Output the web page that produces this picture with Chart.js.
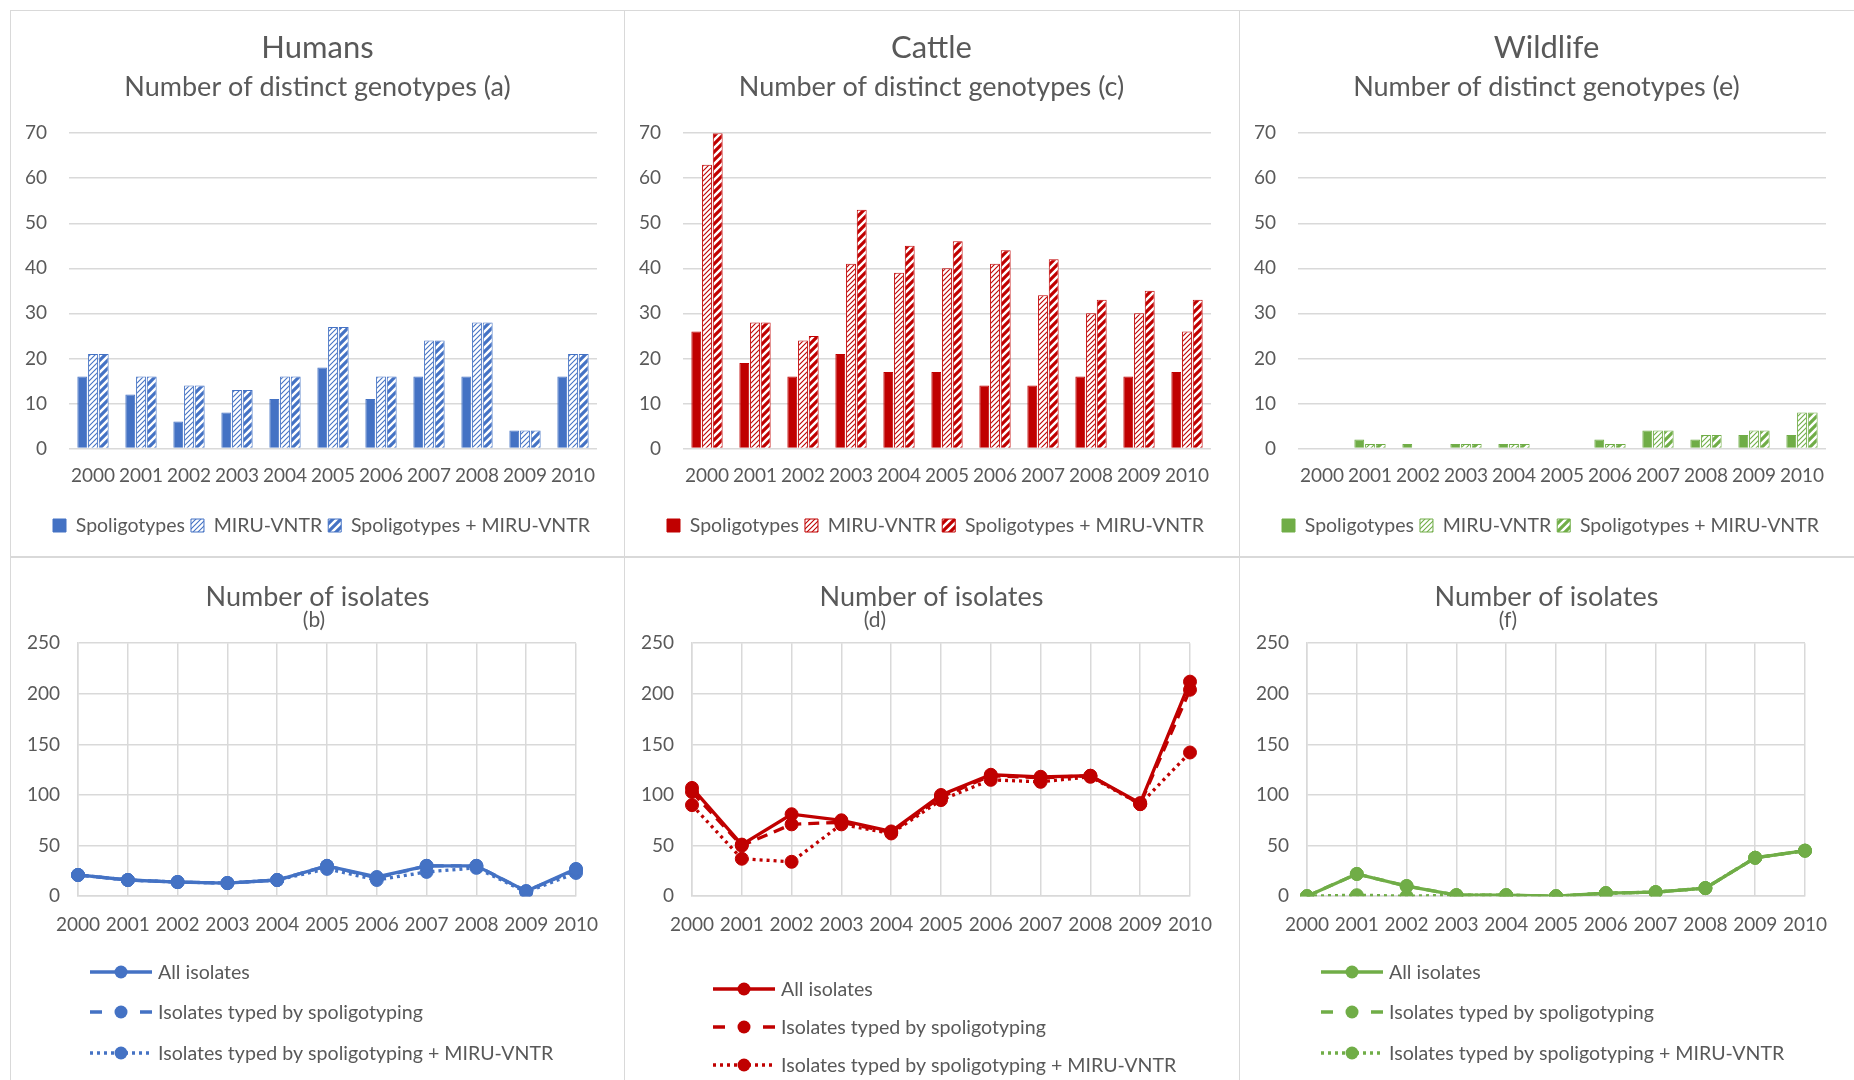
<!DOCTYPE html>
<html>
<head>
<meta charset="utf-8">
<title>Distinct genotypes and isolates, 2000-2010</title>
<script src="https://cdn.jsdelivr.net/npm/chart.js@4.4.1/dist/chart.umd.min.js"></script>
<style>
  body { margin: 0; background: #fff; width: 1854px; height: 1080px; overflow: hidden; position: relative; }
  .panel { position: absolute; border: 1px solid #d9d9d9; box-sizing: border-box; }
  .panel canvas { position: absolute; left: -1px; top: -1px; }
</style>
</head>
<body>
<div class="panel" style="left:10px;top:10px;width:615px;height:547px"><canvas id="genoHumans" width="615" height="546"></canvas></div>
<div class="panel" style="left:624px;top:10px;width:616px;height:547px"><canvas id="genoCattle" width="615" height="546"></canvas></div>
<div class="panel" style="left:1239px;top:10px;width:620px;height:547px"><canvas id="genoWildlife" width="615" height="546"></canvas></div>
<div class="panel" style="left:10px;top:557px;width:615px;height:530px"><canvas id="isoHumans" width="615" height="523"></canvas></div>
<div class="panel" style="left:624px;top:557px;width:616px;height:530px"><canvas id="isoCattle" width="615" height="523"></canvas></div>
<div class="panel" style="left:1239px;top:557px;width:620px;height:530px"><canvas id="isoWildlife" width="615" height="523"></canvas></div>

<script>
// valeurs
const years = ['2000', '2001', '2002', '2003', '2004', '2005', '2006', '2007', '2008', '2009', '2010'];
const genotypeTicks = [0, 10, 20, 30, 40, 50, 60, 70];
const isolateTicks = [0, 50, 100, 150, 200, 250];
const genoLabels = ['Spoligotypes', 'MIRU-VNTR', 'Spoligotypes + MIRU-VNTR'];
const isoLabels = ['All isolates', 'Isolates typed by spoligotyping', 'Isolates typed by spoligotyping + MIRU-VNTR'];

// nombre de génotypes distincts
const humansSpol = [16, 12, 6, 8, 11, 18, 11, 16, 16, 4, 16];
const humansMiru = [21, 16, 14, 13, 16, 27, 16, 24, 28, 4, 21];
const humansBoth = [21, 16, 14, 13, 16, 27, 16, 24, 28, 4, 21];
const cattleSpol = [26, 19, 16, 21, 17, 17, 14, 14, 16, 16, 17];
const cattleMiru = [63, 28, 24, 41, 39, 40, 41, 34, 30, 30, 26];
const cattleBoth = [70, 28, 25, 53, 45, 46, 44, 42, 33, 35, 33];
const wildSpol = [0, 2, 1, 1, 1, 0, 2, 4, 2, 3, 3];
const wildMiru = [0, 1, 0, 1, 1, 0, 1, 4, 3, 4, 8];
const wildBoth = [0, 1, 0, 1, 1, 0, 1, 4, 3, 4, 8];

// nombre d'isolats
const humansAll = [21, 16, 14, 13, 16, 30, 19, 30, 30, 5, 27];
const humansTypedSpol = [21, 16, 14, 13, 16, 30, 18, 30, 30, 5, 26];
const humansTypedBoth = [21, 16, 14, 13, 16, 27, 16, 24, 28, 4, 23];
const cattleAll = [107, 51, 81, 75, 64, 100, 120, 118, 119, 92, 212];
const cattleTypedSpol = [103, 50, 71, 73, 63, 98, 119, 117, 119, 91, 204];
const cattleTypedBoth = [90, 37, 34, 71, 62, 95, 115, 113, 118, 91, 142];
const wildAll = [0, 22, 10, 1, 1, 0, 3, 4, 8, 38, 45];
const wildTypedSpol = [0, 22, 10, 1, 1, 0, 3, 4, 8, 38, 45];
const wildTypedBoth = [0, 1, 0, 1, 1, 0, 3, 4, 8, 38, 45];

const BLUE = '#4472C4', RED = '#C00000', GREEN = '#70AD47';
const GRID = '#d9d9d9', TEXT = '#595959';
const FONT = 'Lato, "Open Sans", sans-serif';

Chart.defaults.font.family = FONT;
Chart.defaults.color = TEXT;
Chart.defaults.animation = false;

// hachures diagonales (motif Excel)
function hatch(color, lineW, size) {
    const c = document.createElement('canvas');
    c.width = c.height = size;
    const g = c.getContext('2d');
    g.fillStyle = '#fff';
    g.fillRect(0, 0, size, size);
    g.strokeStyle = color;
    g.lineWidth = lineW;
    g.beginPath();
    g.moveTo(-1, size + 1); g.lineTo(size + 1, -1);
    g.moveTo(-size / 2, size / 2); g.lineTo(size / 2, -size / 2);
    g.moveTo(size / 2, size * 1.5); g.lineTo(size * 1.5, size / 2);
    g.stroke();
    return g.createPattern(c, 'repeat');
}

// titres et légende centrés sur le panneau entier, pas sur la zone moins le padding droit
const centreShift = {
    id: 'centreShift',
    afterLayout(chart, args, opts) {
        chart.boxes.forEach(b => {
            if (b.axis) return;
            const dx = b === chart.legend ? opts.legend : opts.title;
            b.left += dx;
            b.right += dx;
        });
    }
};

// lettre (b)/(d)/(f) et légende verticale des courbes
const sideNotes = {
    id: 'sideNotes',
    afterDraw(chart, args, opts) {
        const ctx = chart.ctx;
        ctx.save();
        ctx.fillStyle = TEXT;
        ctx.font = '21px ' + FONT;
        ctx.textAlign = 'center';
        ctx.textBaseline = 'middle';
        ctx.fillText('(' + opts.letter + ')', opts.letterX, opts.letterY);

        ctx.font = '19.6px ' + FONT;
        ctx.textAlign = 'left';
        chart.data.datasets.forEach((ds, i) => {
            const y = opts.legendRows[i];
            const x0 = opts.legendX, x1 = opts.legendX + 62;
            ctx.strokeStyle = ds.borderColor;
            ctx.lineWidth = ds.borderWidth;
            ctx.setLineDash(ds.sampleDash);
            ctx.beginPath();
            ctx.moveTo(x0, y);
            ctx.lineTo(x1, y);
            ctx.stroke();
            ctx.setLineDash([]);
            ctx.fillStyle = ds.borderColor;
            ctx.beginPath();
            ctx.arc((x0 + x1) / 2, y, ds.pointRadius, 0, Math.PI * 2);
            ctx.fill();
            ctx.fillStyle = TEXT;
            ctx.fillText(ds.label, x1 + 6, y + 1);
        });
        ctx.restore();
    }
};

function genotypeChart(id, host, letter, color, spol, miru, both) {
    return new Chart(document.getElementById(id), {
        type: 'bar',
        data: {
            labels: years,
            datasets: [
                { label: genoLabels[0], data: spol, backgroundColor: color, borderColor: color, borderWidth: 1 },
                { label: genoLabels[1], data: miru, backgroundColor: hatch(color, 1.1, 5), borderColor: color, borderWidth: 1 },
                { label: genoLabels[2], data: both, backgroundColor: hatch(color, 3.2, 8), borderColor: color, borderWidth: 1 }
            ]
        },
        options: {
            responsive: false,
            layout: { padding: { top: 0, right: 28, bottom: 10.75, left: 0 } },
            datasets: { bar: { categoryPercentage: 0.67, barPercentage: 0.92 } },
            plugins: {
                title: { display: true, text: host, font: { size: 31, weight: 'normal' }, padding: { top: 19.8, bottom: 0 } },
                subtitle: { display: true, text: 'Number of distinct genotypes (' + letter + ')', color: TEXT, font: { size: 27 }, padding: { top: 4.2, bottom: 29.6 } },
                legend: { position: 'bottom', labels: { boxWidth: 13, boxHeight: 13, padding: 6, font: { size: 19.5 } } },
                tooltip: { enabled: false },
                centreShift: { title: 14, legend: 18 }
            },
            scales: {
                x: {
                    grid: { display: false },
                    border: { display: false },
                    ticks: { autoSkip: false, maxRotation: 0, padding: 8.2, font: { size: 19 } },
                    afterFit: s => { s.height = 61.25; }
                },
                y: {
                    min: genotypeTicks[0],
                    max: genotypeTicks[genotypeTicks.length - 1],
                    ticks: { stepSize: genotypeTicks[1] - genotypeTicks[0], padding: 22, font: { size: 19 } },
                    grid: { color: GRID, lineWidth: 1.5, drawTicks: false },
                    border: { display: false },
                    afterFit: s => { s.width = 59; }
                }
            }
        },
        plugins: [centreShift]
    });
}

function isolateChart(id, letter, letterX, legendX, legendRows, color, all, spol, both) {
    const line = { borderColor: color, backgroundColor: color, pointBackgroundColor: color, pointBorderColor: color, borderWidth: 3.3, pointRadius: 6.5, pointBorderWidth: 1 };
    return new Chart(document.getElementById(id), {
        type: 'line',
        data: {
            labels: years,
            datasets: [
                Object.assign({ label: isoLabels[0], data: all, sampleDash: [] }, line),
                Object.assign({ label: isoLabels[1], data: spol, borderDash: [11, 7], sampleDash: [12, 38] }, line),
                Object.assign({ label: isoLabels[2], data: both, borderDash: [3, 4], sampleDash: [3, 4] }, line)
            ]
        },
        options: {
            responsive: false,
            layout: { padding: { top: 0, right: 49, bottom: 138.8, left: 0 } },
            plugins: {
                title: { display: true, text: 'Number of isolates', font: { size: 27, weight: 'normal' }, padding: { top: 23.7, bottom: 30.1 } },
                legend: { display: false },
                tooltip: { enabled: false },
                centreShift: { title: 24.5, legend: 0 },
                sideNotes: { letter: letter, letterX: letterX, letterY: 63.5, legendX: legendX, legendRows: legendRows }
            },
            scales: {
                x: {
                    offset: false,
                    grid: { color: GRID, lineWidth: 1.5, offset: false, drawTicks: false },
                    border: { color: GRID, width: 1.5 },
                    ticks: { autoSkip: false, maxRotation: 0, padding: 17, font: { size: 19 } },
                    afterFit: s => { s.height = 45; }
                },
                y: {
                    min: isolateTicks[0],
                    max: isolateTicks[isolateTicks.length - 1],
                    ticks: { stepSize: isolateTicks[1] - isolateTicks[0], padding: 18, font: { size: 19 } },
                    grid: { color: GRID, lineWidth: 1.5, drawTicks: false },
                    border: { color: GRID, width: 1.5 },
                    afterFit: s => { s.width = 68; }
                }
            }
        },
        plugins: [centreShift, sideNotes]
    });
}

genotypeChart('genoHumans', 'Humans', 'a', BLUE, humansSpol, humansMiru, humansBoth);
genotypeChart('genoCattle', 'Cattle', 'c', RED, cattleSpol, cattleMiru, cattleBoth);
genotypeChart('genoWildlife', 'Wildlife', 'e', GREEN, wildSpol, wildMiru, wildBoth);

isolateChart('isoHumans', 'b', 304, 80, [415, 455, 496], BLUE, humansAll, humansTypedSpol, humansTypedBoth);
isolateChart('isoCattle', 'd', 251, 89, [432, 470, 508], RED, cattleAll, cattleTypedSpol, cattleTypedBoth);
isolateChart('isoWildlife', 'f', 269, 82, [415, 455, 496], GREEN, wildAll, wildTypedSpol, wildTypedBoth);
</script>
</body>
</html>
